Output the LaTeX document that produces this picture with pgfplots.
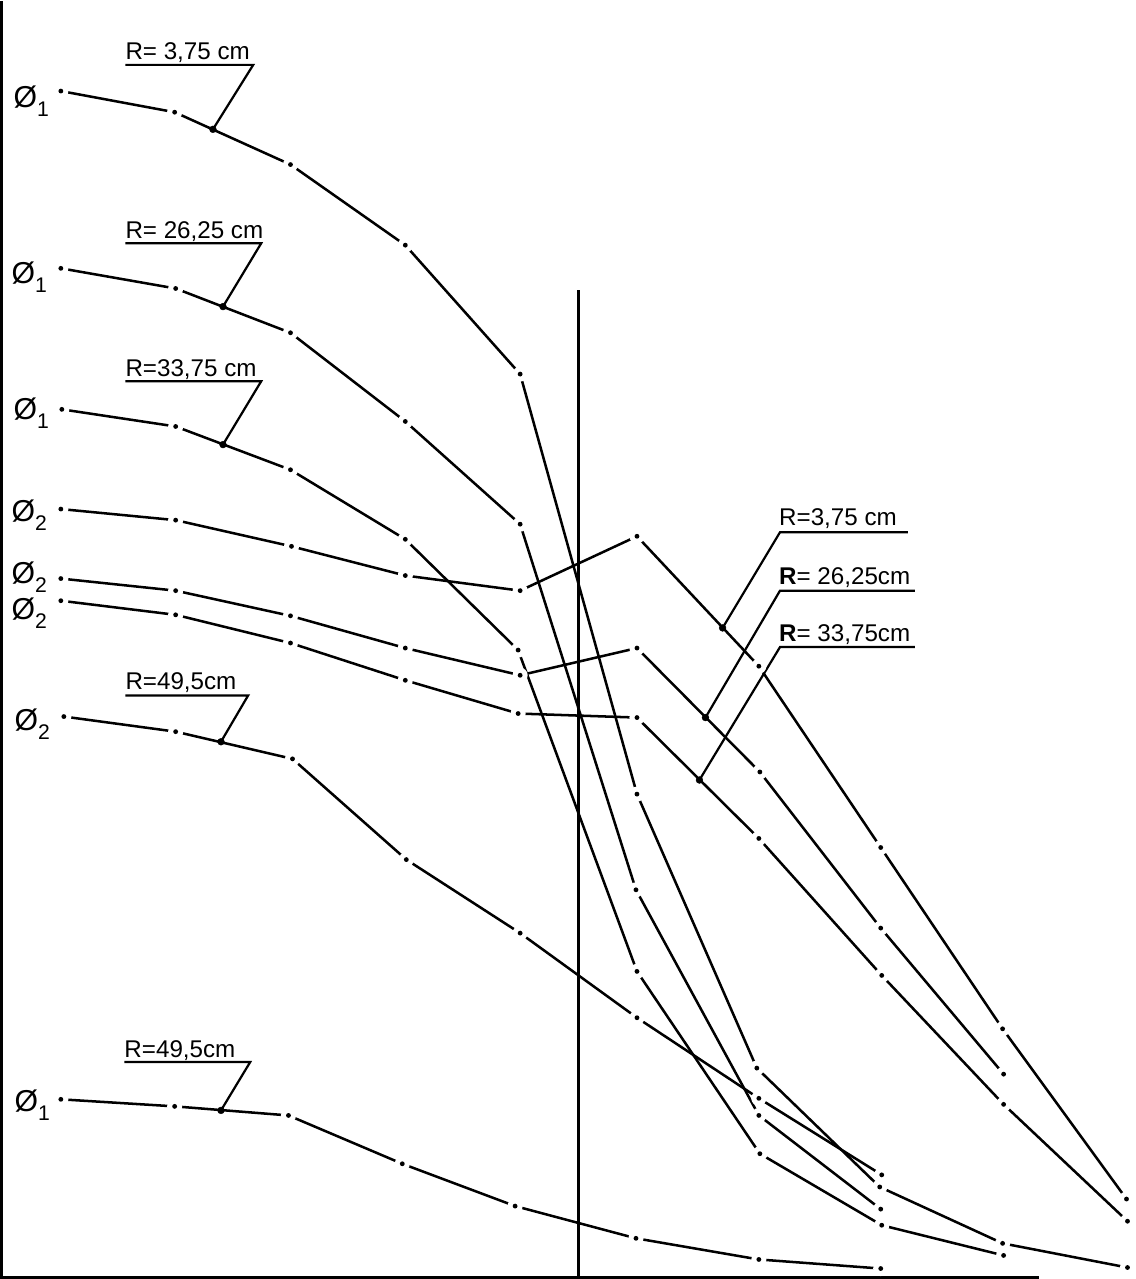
\documentclass[border=0pt]{standalone}
\usepackage{fontspec}
\setmainfont{Liberation Sans}
\usepackage{pgfplots}
\pgfplotsset{compat=1.18}

\pgfdeclareplotmark{gapdot}{%
  \pgfsetfillcolor{white}%
  \pgfpathcircle{\pgfpointorigin}{7.5bp}%
  \pgfusepathqfill
  \pgfsetfillcolor{black}%
  \pgfpathcircle{\pgfpointorigin}{2.4bp}%
  \pgfusepathqfill
}
\newcommand\lbl{\fontsize{24bp}{28bp}\selectfont}
\newcommand\phil[1]{{\fontsize{30bp}{30bp}\selectfont Ø}\raisebox{-9bp}{\fontsize{21bp}{21bp}\selectfont #1}}

\begin{document}
\begin{tikzpicture}
\begin{axis}[
  width=1184bp, height=1279bp, scale only axis,
  xmin=0, xmax=1184, ymin=0, ymax=1279,
  y dir=reverse, hide axis, clip=false,
  curve/.style={black, line width=2.5bp, mark=gapdot},
  frameline/.style={black, line width=2.8bp, no marks},
  leader/.style={black, line width=2.2bp, no marks},
  ptr/.style={black, only marks, mark=*, mark size=3.4bp},
]
% frame lines
\addplot[frameline] coordinates {(10,8) (10,1275) (1040,1275)};
\addplot[frameline] coordinates {(583,295) (583,1275)};

% phi1 R=3.75
\addplot[curve] coordinates {(69,97) (182,118) (297,170) (411,250) (525,378) (641,795) (760,1067) (882,1185) (1004,1241) (1128,1265)};
% phi1 R=26.25
\addplot[curve] coordinates {(69,273) (183,293) (297,337) (411,425) (525,527) (640,890) (762,1114) (883,1207)};
% phi1 R=33.75
\addplot[curve] coordinates {(70,413) (183,430) (297,473) (411,542) (523,652) (641,971) (763,1152) (884,1223) (1005,1253)};
% phi2 R=3.75
\addplot[curve] coordinates {(69,512) (183,523) (298,549) (411,578) (525,593) (641,539) (762,668) (883,848) (1004,1028) (1127,1197)};
% phi2 R=26.25
\addplot[curve] coordinates {(69,581) (183,593) (297,618) (411,650) (525,677) (641,650) (763,773) (883,928) (1005,1073)};
% phi2 R=33.75
\addplot[curve] coordinates {(69,603) (183,617) (297,645) (411,682) (523,715) (641,719) (762,839) (884,975) (1005,1103) (1128,1219)};
% phi2 R=49.5
\addplot[curve] coordinates {(72,718) (183,733) (299,760) (412,860) (525,933) (641,1017) (762,1097) (884,1173)};
% phi1 R=49.5
\addplot[curve] coordinates {(69,1098) (182,1105) (295,1114) (408,1162) (520,1204) (640,1236) (762,1257) (883,1266)};

% leaders (left)
\addplot[leader] coordinates {(133,71) (260,71) (220,135)};
\addplot[ptr] coordinates {(220,135)};
\addplot[leader] coordinates {(133,248) (268,248) (230,311)};
\addplot[ptr] coordinates {(230,311)};
\addplot[leader] coordinates {(133,385) (268,385) (230,448)};
\addplot[ptr] coordinates {(230,448)};
\addplot[leader] coordinates {(133,697) (255,697) (228,743)};
\addplot[ptr] coordinates {(228,743)};
\addplot[leader] coordinates {(132,1061) (257,1061) (228,1109)};
\addplot[ptr] coordinates {(228,1109)};
% leaders (right)
\addplot[leader] coordinates {(910,535) (783,535) (726,630)};
\addplot[ptr] coordinates {(726,630)};
\addplot[leader] coordinates {(917,593) (783,593) (709,719)};
\addplot[ptr] coordinates {(709,719)};
\addplot[leader] coordinates {(917,649) (783,649) (703,781)};
\addplot[ptr] coordinates {(703,781)};

% labels
\node[anchor=base west, inner sep=0, font=\lbl] at (axis cs:133,66) {R= 3,75 cm};
\node[anchor=base west, inner sep=0, font=\lbl] at (axis cs:133,243) {R= 26,25 cm};
\node[anchor=base west, inner sep=0, font=\lbl] at (axis cs:133,380) {R=33,75 cm};
\node[anchor=base west, inner sep=0, font=\lbl] at (axis cs:133,691) {R=49,5cm};
\node[anchor=base west, inner sep=0, font=\lbl] at (axis cs:132,1056) {R=49,5cm};
\node[anchor=base west, inner sep=0, font=\lbl] at (axis cs:782,528) {R=3,75 cm};
\node[anchor=base west, inner sep=0, font=\lbl] at (axis cs:782,587) {\textbf{R}= 26,25cm};
\node[anchor=base west, inner sep=0, font=\lbl] at (axis cs:782,643) {\textbf{R}= 33,75cm};

\node[anchor=base west, inner sep=0] at (axis cs:22,113) {\phil{1}};
\node[anchor=base west, inner sep=0] at (axis cs:20,288) {\phil{1}};
\node[anchor=base west, inner sep=0] at (axis cs:22,423) {\phil{1}};
\node[anchor=base west, inner sep=0] at (axis cs:20,524) {\phil{2}};
\node[anchor=base west, inner sep=0] at (axis cs:20,586) {\phil{2}};
\node[anchor=base west, inner sep=0] at (axis cs:20,622) {\phil{2}};
\node[anchor=base west, inner sep=0] at (axis cs:23,732) {\phil{2}};
\node[anchor=base west, inner sep=0] at (axis cs:23,1110) {\phil{1}};
\end{axis}
\end{tikzpicture}
\end{document}
